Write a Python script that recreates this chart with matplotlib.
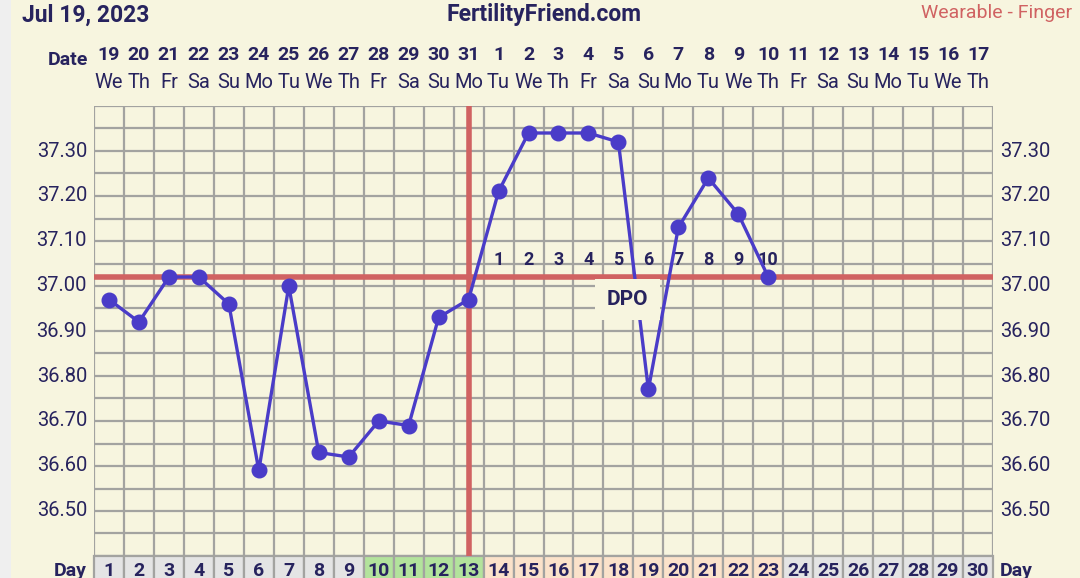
import matplotlib.pyplot as plt
from matplotlib.patches import Rectangle
import matplotlib.transforms as mtransforms

plt.rcParams['font.family'] = ['Roboto', 'DejaVu Sans']

# data
days = list(range(1, 31))
dates = [19, 20, 21, 22, 23, 24, 25, 26, 27, 28, 29, 30, 31,
         1, 2, 3, 4, 5, 6, 7, 8, 9, 10, 11, 12, 13, 14, 15, 16, 17]
weekdays = (['We', 'Th', 'Fr', 'Sa', 'Su', 'Mo', 'Tu'] * 5)[:30]
temps = [36.97, 36.92, 37.02, 37.02, 36.96, 36.59, 37.00, 36.63, 36.62, 36.70,
         36.69, 36.93, 36.97, 37.21, 37.34, 37.34, 37.34, 37.32, 36.77, 37.13,
         37.24, 37.16, 37.02]
coverline = 37.02
ovulation_day = 13
fertile_days = [10, 11, 12, 13]
luteal_days = list(range(14, 24))
dpo = list(range(1, 11))
yticks = [36.50, 36.60, 36.70, 36.80, 36.90, 37.00, 37.10, 37.20, 37.30]

cream = '#f7f5df'
navy = '#27235e'
red = '#d06262'
blue = '#4a3cc8'
gridc = '#a3a3a0'

W, H = 1080, 578
fig = plt.figure(figsize=(W / 100, H / 100), dpi=100)
fig.patch.set_facecolor(cream)
# light grey strip on the left edge
fig.patches.append(Rectangle((0, 0), 11 / W, 1, transform=fig.transFigure,
                             facecolor='#efefef', edgecolor='none'))

left, right, top, bottom = 94, 993, 106, 556
ax = fig.add_axes([left / W, (H - bottom) / H, (right - left) / W, (bottom - top) / H])
ax.set_facecolor(cream)
ax.set_xlim(0.5, 30.5)
ax.set_ylim(36.40, 37.40)

# grid
for i in range(31):
    ax.axvline(0.5 + i, color=gridc, lw=1.6, zorder=1)
y = 36.40
while y < 37.41:
    ax.axhline(y, color=gridc, lw=1.6, zorder=1)
    y = round(y + 0.05, 2)
for s in ax.spines.values():
    s.set_visible(False)
ax.set_xticks([])
ax.set_yticks([])

# cover line and ovulation line
ax.axhline(coverline, color=red, lw=4, zorder=2)
ax.axvline(ovulation_day, color=red, lw=4, zorder=2)

# DPO labels
for d, n in zip(luteal_days, dpo):
    ax.text(d, 37.058, str(n), ha='center', va='center', fontsize=13,
            fontweight='bold', color=navy, zorder=3)
ax.text(18.3, 36.97, 'DPO', ha='center', va='center', fontsize=15,
        fontweight='bold', color=navy, zorder=5,
        bbox=dict(boxstyle='square,pad=0.55', facecolor=cream, edgecolor='none'))

# temperature line
ax.plot(days[:len(temps)], temps, color=blue, lw=2.4, marker='o', ms=10.5,
        zorder=4, clip_on=False)

# y labels on both sides
for t in yticks:
    ax.text(0.27, t, '%.2f' % t, ha='right', va='center', fontsize=14.5, color=navy)
    ax.text(30.73, t, '%.2f' % t, ha='left', va='center', fontsize=14.5, color=navy)

# day row under the chart
trans = mtransforms.blended_transform_factory(ax.transData, ax.transAxes)
cell_h = 30 / (bottom - top)
for d in days:
    if d in fertile_days:
        fc = '#b3e39c'
    elif d in luteal_days:
        fc = '#fbe2ca'
    else:
        fc = '#e4e4e4'
    ax.add_patch(Rectangle((d - 0.5, -cell_h), 1, cell_h, transform=trans,
                           facecolor=fc, edgecolor=gridc, lw=1.6, clip_on=False))
    ax.text(d, -0.034, str(d), transform=trans, ha='center', va='center',
            fontsize=14, fontweight='bold', color=navy)
ax.text(0.27, -0.034, 'Day', transform=trans, ha='right', va='center',
        fontsize=14, fontweight='bold', color=navy)
ax.text(30.73, -0.034, 'Day', transform=trans, ha='left', va='center',
        fontsize=14, fontweight='bold', color=navy)

# date and weekday header
for d, dt, wd in zip(days, dates, weekdays):
    ax.text(d, 1 + 51 / 450, str(dt), transform=trans, ha='center', va='center',
            fontsize=14, fontweight='bold', color=navy)
    ax.text(d, 1 + 23 / 450, wd, transform=trans, ha='center', va='center',
            fontsize=14.5, color=navy)
fig.text(88 / W, 1 - 60 / H, 'Date', ha='right', va='center', fontsize=14,
         fontweight='bold', color=navy)

# titles
fig.text(22 / W, 1 - 15 / H, 'Jul 19, 2023', ha='left', va='center', fontsize=16.5,
         fontweight='bold', color=navy)
fig.text(544 / W, 1 - 15 / H, 'FertilityFriend.com', ha='center', va='center',
         fontsize=16.5, fontweight='bold', color=navy)
fig.text(1072 / W, 1 - 13 / H, 'Wearable - Finger', ha='right', va='center',
         fontsize=14, color=red)

fig.savefig('out.png', dpi=100, facecolor=fig.get_facecolor())
